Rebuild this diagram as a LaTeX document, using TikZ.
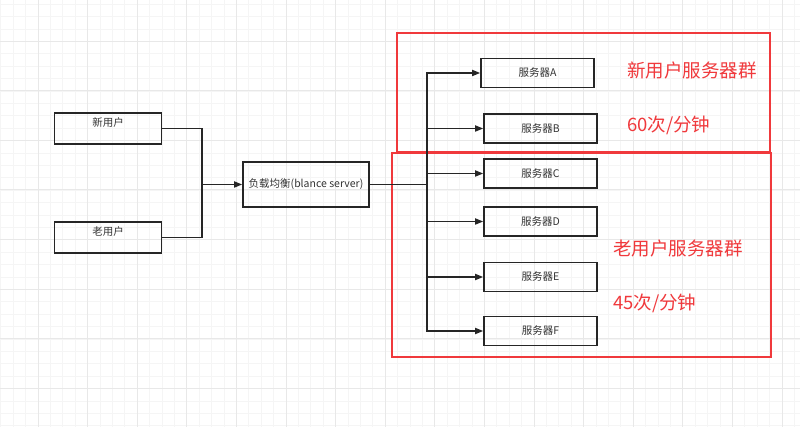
\documentclass[tikz,border=0pt]{standalone}
\usepackage{fontspec}
\setmainfont{Noto Sans CJK SC}
\usetikzlibrary{arrows.meta}
\definecolor{gridminor}{HTML}{F5F5F5}
\definecolor{gridmajor}{HTML}{E8E8E8}
\definecolor{redline}{HTML}{F0393C}
\definecolor{txt}{HTML}{333333}
\tikzset{
  box/.style={draw=black!85, line width=1.6pt, minimum width=107pt, minimum height=31pt, inner sep=0pt},
  srv/.style={draw=black!85, line width=1.6pt, minimum width=113pt, minimum height=29pt, inner sep=0pt, font=\fontsize{10.5}{12}\selectfont, text=txt},
  conn/.style={draw=black!85, line width=1.6pt},
  arr/.style={conn, -{Triangle[length=8pt,width=6pt]}},
  grp/.style={draw=redline, line width=1.5pt},
  redtxt/.style={text=redline, anchor=west, inner sep=0pt, font=\fontsize{18.5}{20}\selectfont},
  toplabel/.style={font=\fontsize{10.5}{12}\selectfont, text=txt, anchor=center, yshift=-10pt}
}
\begin{document}
\begin{tikzpicture}[x=1pt,y=-1pt]
\useasboundingbox (0,0) rectangle (800,427);
\fill[white] (0,0) rectangle (800,427);
% grid
\foreach \i in {0,...,65} {
  \pgfmathsetmacro{\xx}{0.8+12.4*\i}
  \draw[gridminor, line width=0.8pt] (\xx,0) -- (\xx,427);
}
\foreach \i in {0,...,35} {
  \pgfmathsetmacro{\yy}{4.2+12.4*\i}
  \draw[gridminor, line width=0.8pt] (0,\yy) -- (800,\yy);
}
\foreach \i in {0,...,16} {
  \pgfmathsetmacro{\xx}{38+49.6*\i}
  \draw[gridmajor, line width=0.8pt] (\xx,0) -- (\xx,427);
}
\foreach \i in {0,...,8} {
  \pgfmathsetmacro{\yy}{41+49.6*\i}
  \draw[gridmajor, line width=0.8pt] (0,\yy) -- (800,\yy);
}
% red group frames
\draw[grp] (397,33) rectangle (770,152);
\draw[grp] (392,153) rectangle (771,357);
% users
\node[box, label={[toplabel]north:新用户}] (new) at (108,128.5) {};
\node[box, label={[toplabel]north:老用户}] (old) at (108,237.5) {};
% load balancer
\node[draw=black!85, line width=1.6pt, minimum width=126pt, minimum height=45pt, inner sep=0pt, font=\fontsize{10.5}{12}\selectfont, text=txt] (lb) at (306,184.5) {负载均衡(blance server)};
% servers
\node[srv] (A) at (537.5,73) {服务器A};
\node[srv] (B) at (540.5,128.5) {服务器B};
\node[srv] (C) at (540.5,173.5) {服务器C};
\node[srv] (D) at (540.5,221.5) {服务器D};
\node[srv] (E) at (540.5,277) {服务器E};
\node[srv] (F) at (540.5,331) {服务器F};
% junctions
\coordinate (j1) at (202,184.5);
\coordinate (t) at (427,184.5);
\draw[conn] (new.east) -| (j1);
\draw[conn] (old.east) -| (j1);
\draw[arr] (j1) -- (lb.west);
\draw[conn] (lb.east) -- (t);
\foreach \s in {A,B,C,D,E,F} {
  \draw[arr] (t) |- (\s.west);
}
% red texts
\node[redtxt] (g1) at (627,70) {新用户服务器群};
\node[redtxt] (r1) at (627,125) {60次/分钟};
\node[redtxt] (g2) at (613,248) {老用户服务器群};
\node[redtxt] (r2) at (613,303) {45次/分钟};
\end{tikzpicture}
\end{document}
